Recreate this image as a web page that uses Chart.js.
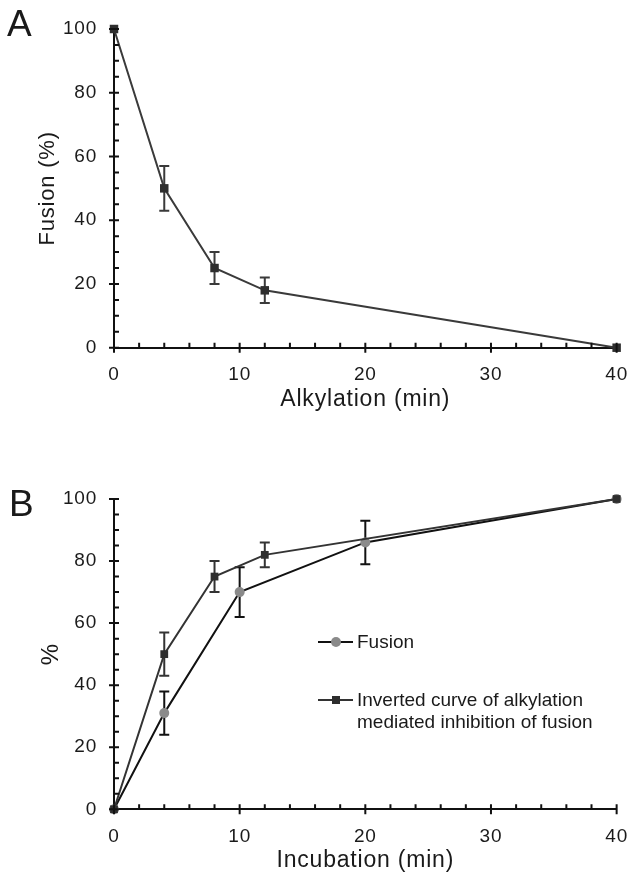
<!DOCTYPE html>
<html>
<head>
<meta charset="utf-8">
<script src="https://cdn.jsdelivr.net/npm/chart.js@4.4.0/dist/chart.umd.min.js"></script>
<style>
  body { margin: 0; background: #fff; }
  #wrap { position: relative; width: 644px; height: 876px; overflow: hidden; color: #1a1a1a;
          font-family: "Liberation Sans", Arial, sans-serif; }
  #chartA { position: absolute; left: 0; top: 0; }
  #chartB { position: absolute; left: 0; top: 440px; }
  .panel { position: absolute; font-size: 37px; line-height: 37px; }
  .leg { position: absolute; font-size: 19px; line-height: 21.7px; white-space: nowrap; }
  .legLine { position: absolute; height: 2px; width: 35px; }
  .legMark { position: absolute; }
</style>
</head>
<body>
<div id="wrap">
  <canvas id="chartA" width="644" height="415"></canvas>
  <canvas id="chartB" width="644" height="436"></canvas>

  <div class="panel" style="left:7px; top:5px;">A</div>
  <div class="panel" style="left:9px; top:485px;">B</div>

  <div class="legLine" style="left:318px; top:641px; background:#111;"></div>
  <div class="legMark" style="left:331px; top:637px; width:10px; height:10px; border-radius:50%; background:#8a8a8a;"></div>
  <div class="leg" style="left:357px; top:631px;">Fusion</div>

  <div class="legLine" style="left:318px; top:699px; background:#333;"></div>
  <div class="legMark" style="left:332px; top:696px; width:8px; height:8px; background:#2e2e2e;"></div>
  <div class="leg" style="left:357px; top:689px;">Inverted curve of alkylation<br>mediated inhibition of fusion</div>
</div>

<script>
// panel A: fusion after alkylation
const alkTime = [0, 4, 8, 12, 40];
const alkFusion = [100, 50, 25, 18, 0];
const alkErr = [0, 7, 5, 4, 0];

// panel B: fusion vs incubation, and inverted alkylation curve
const incTime = [0, 4, 10, 20, 40];
const incFusion = [0, 31, 70, 86, 100];
const incErr = [0, 7, 8, 7, 0];

const invTime = [0, 4, 8, 12, 40];
const invFusion = [0, 50, 75, 82, 100];
const invErr = [0, 7, 5, 4, 0];

const xTicks = [0, 10, 20, 30, 40];
const yTicks = [0, 20, 40, 60, 80, 100];

Chart.defaults.font.family = '"Liberation Sans", Arial, sans-serif';
Chart.defaults.color = '#1a1a1a';

const pts = (xs, ys) => xs.map((x, i) => ({ x: x, y: ys[i] }));

// error bars, little axis ticks, wider text
const frame = {
  id: 'frame',
  beforeUpdate(chart) { chart.ctx.letterSpacing = '0.8px'; },
  beforeDraw(chart) { chart.ctx.letterSpacing = '0.8px'; },
  beforeDatasetsDraw(chart) {
    const ctx = chart.ctx, sx = chart.scales.x, sy = chart.scales.y;
    chart.data.datasets.forEach(ds => {
      if (!ds.errors) return;
      ctx.save();
      ctx.strokeStyle = ds.borderColor;
      ctx.lineWidth = 2;
      ds.data.forEach((p, i) => {
        const e = ds.errors[i];
        if (!e) return;
        const x = sx.getPixelForValue(p.x);
        const y1 = sy.getPixelForValue(p.y + e);
        const y2 = sy.getPixelForValue(p.y - e);
        ctx.beginPath();
        ctx.moveTo(x, y1); ctx.lineTo(x, y2);
        ctx.moveTo(x - 5, y1); ctx.lineTo(x + 5, y1);
        ctx.moveTo(x - 5, y2); ctx.lineTo(x + 5, y2);
        ctx.stroke();
      });
      ctx.restore();
    });
  },
  afterDraw(chart) {
    const ctx = chart.ctx, sx = chart.scales.x, sy = chart.scales.y;
    const left = chart.chartArea.left, bottom = chart.chartArea.bottom;
    ctx.save();
    ctx.strokeStyle = '#111';
    ctx.lineWidth = 2;
    ctx.beginPath();
    for (let v = sy.min; v <= sy.max; v += 5) {
      const y = sy.getPixelForValue(v);
      ctx.moveTo(v % 20 === 0 ? left - 5 : left, y);
      ctx.lineTo(left + 5, y);
    }
    for (let v = sx.min; v <= sx.max; v += 2) {
      const x = sx.getPixelForValue(v);
      ctx.moveTo(x, bottom - 5);
      ctx.lineTo(x, v % 10 === 0 ? bottom + 5 : bottom);
    }
    ctx.stroke();
    ctx.restore();
  }
};

function makeOptions(topPad, xHeight, yTitle, yTitleSize, yTitlePad) {
  return {
    responsive: false,
    animation: false,
    layout: { padding: { top: topPad, right: 12, left: 0, bottom: 0 } },
    plugins: { legend: { display: false }, tooltip: { enabled: false } },
    scales: {
      x: {
        type: 'linear', min: 0, max: 40,
        afterBuildTicks: s => { s.ticks = xTicks.map(v => ({ value: v })); },
        afterFit: s => { s.height = xHeight; },
        grid: { display: false, drawTicks: false },
        border: { display: true, color: '#111', width: 2 },
        ticks: { padding: 16, font: { size: 19 }, color: '#1a1a1a' },
        title: { display: true, text: '', font: { size: 23 }, color: '#1a1a1a', padding: { top: 0, bottom: 2 } }
      },
      y: {
        min: 0, max: 100,
        afterBuildTicks: s => { s.ticks = yTicks.map(v => ({ value: v })); },
        afterFit: s => { s.width = 114; },
        grid: { display: false, drawTicks: false },
        border: { display: true, color: '#111', width: 2 },
        ticks: { padding: 17, font: { size: 19 }, color: '#1a1a1a' },
        title: { display: true, text: yTitle, font: { size: yTitleSize }, color: '#1a1a1a', padding: { top: yTitlePad, bottom: 0 } }
      }
    }
  };
}

const optsA = makeOptions(29, 67.3, 'Fusion (%)', 22, 35);
optsA.scales.x.title.text = 'Alkylation (min)';

new Chart('chartA', {
  type: 'line',
  data: {
    datasets: [{
      label: 'Fusion',
      data: pts(alkTime, alkFusion),
      errors: alkErr,
      borderColor: '#3a3a3a',
      backgroundColor: '#2e2e2e',
      borderWidth: 2,
      pointStyle: 'rect',
      pointRadius: 6,
      pointBorderWidth: 0,
      tension: 0,
      clip: false
    }]
  },
  options: optsA,
  plugins: [frame]
});

const optsB = makeOptions(59, 66.7, '%', 24, 37);
optsB.scales.x.title.text = 'Incubation (min)';

new Chart('chartB', {
  type: 'line',
  data: {
    datasets: [{
      label: 'Inverted curve of alkylation mediated inhibition of fusion',
      data: pts(invTime, invFusion),
      errors: invErr,
      borderColor: '#333333',
      backgroundColor: '#2e2e2e',
      borderWidth: 2,
      pointStyle: 'rect',
      pointRadius: 5.5,
      pointBorderWidth: 0,
      tension: 0,
      clip: false
    }, {
      label: 'Fusion',
      data: pts(incTime, incFusion),
      errors: incErr,
      borderColor: '#111111',
      backgroundColor: '#8a8a8a',
      borderWidth: 2,
      pointStyle: 'circle',
      pointRadius: 5,
      pointBorderWidth: 0,
      tension: 0,
      clip: false
    }]
  },
  options: optsB,
  plugins: [frame]
});
</script>
</body>
</html>
